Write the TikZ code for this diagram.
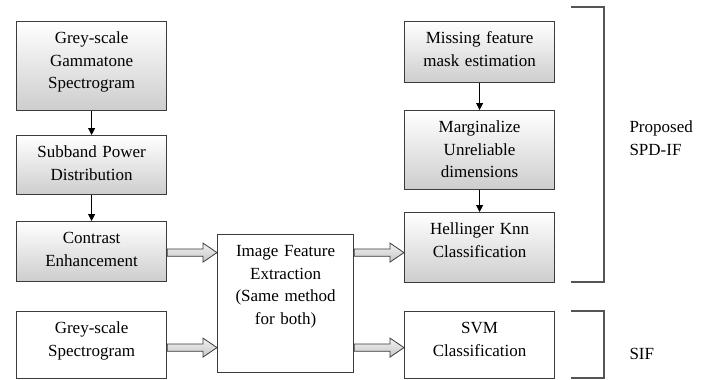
\documentclass[tikz,border=0pt]{standalone}
\usepackage{fontspec}
\setmainfont{Liberation Serif}
\usepackage{tikz}
\usetikzlibrary{arrows.meta}
\usetikzlibrary{calc}
\definecolor{boxline}{RGB}{60,60,60}
\definecolor{boxshade}{RGB}{205,205,205}
\definecolor{brackline}{RGB}{85,85,85}

\tikzset{
  box/.style={draw=boxline, line width=1.2pt, anchor=north west, align=center,
    inner xsep=2pt, inner ysep=0pt, text height=22pt,
    font=\fontsize{17}{22.5}\selectfont},
  shadedbox/.style={box, top color=white, bottom color=boxshade},
  plainbox/.style={box, fill=white},
  flow/.style={line width=0.9pt, -{Triangle[length=7pt,width=7pt]}},
  fat/.style={draw=boxline, line width=0.8pt, top color=gray!10, bottom color=gray!45},
  brack/.style={draw=brackline, line width=1.5pt},
  side/.style={anchor=west, align=left, font=\fontsize{17}{22.5}\selectfont}
}

% hollow block arrow between two points on the same level
\newcommand{\fatarrow}[2]{
  \path[fat] ($(#1)+(0,3.7)$) -- ($(#2)+(-14,3.7)$) -- ($(#2)+(-14,9.5)$) -- (#2)
    -- ($(#2)+(-14,-9.5)$) -- ($(#2)+(-14,-3.7)$) -- ($(#1)+(0,-3.7)$) -- cycle;
}

\begin{document}
\begin{tikzpicture}[x=1pt, y=-1pt]
      \useasboundingbox (0,0) rectangle (707,380);

      % left column
      \node[shadedbox, text width=146pt, text depth=67pt] (gamma) at (16,21)
        {Grey-scale\\Gammatone\\Spectrogram};
      \node[shadedbox, text width=146pt, text depth=37pt] (subband) at (16,135)
        {Subband Power\\Distribution};
      \node[shadedbox, text width=146pt, text depth=38pt] (contrast) at (16,221)
        {Contrast\\Enhancement};
      \node[plainbox, text width=146pt, text depth=45pt] (spec) at (16,311)
        {Grey-scale\\Spectrogram};

      % middle
      \node[plainbox, text width=132pt, text depth=116pt] (feat) at (217,234)
        {Image Feature\\Extraction\\(Same method\\for both)};

      % right column
      \node[shadedbox, text width=146pt, text depth=39pt] (mask) at (404,21)
        {Missing feature\\mask estimation};
      \node[shadedbox, text width=146pt, text depth=57pt] (margin) at (404,110)
        {Marginalize\\Unreliable\\dimensions};
      \node[shadedbox, text width=146pt, text depth=48pt] (knn) at (404,212)
        {Hellinger Knn\\Classification};
      \node[plainbox, text width=146pt, text depth=45pt] (svm) at (404,311)
        {SVM\\Classification};

      \draw[flow] (gamma) -- (subband);
      \draw[flow] (subband) -- (contrast);
      \draw[flow] (mask) -- (margin);
      \draw[flow] (margin) -- (knn);

      \coordinate (upper) at ($(contrast.east)+(0,1)$);
      \coordinate (lower) at ($(spec.east)+(0,2.5)$);
      \fatarrow{upper}{feat.west |- upper}
      \fatarrow{lower}{feat.west |- lower}
      \fatarrow{feat.east |- upper}{knn.west |- upper}
      \fatarrow{feat.east |- lower}{svm.west |- lower}

      % brackets
      \draw[brack] (571,7) -- (604,7) -- (604,282) -- (571,282);
      \draw[brack] (571,311) -- (604,311) -- (604,378) -- (571,378);
      \node[side] (spdif) at (626,138) {Proposed\\SPD-IF};
      \node[side] (sif) at (626,354) {SIF};
\end{tikzpicture}
\end{document}
